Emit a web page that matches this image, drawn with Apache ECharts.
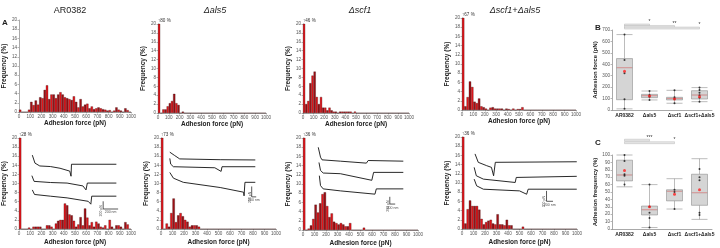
<!DOCTYPE html>
<html>
<head>
<meta charset="utf-8">
<script src="https://cdn.jsdelivr.net/npm/echarts@6/dist/echarts.min.js"></script>
<style>
  html, body { margin: 0; padding: 0; background: #fff; }
  #main { width: 720px; height: 248px; }
</style>
</head>
<body>
<div id="main"></div>
<script>
// histogram bins (pN, centre of 20 pN bins)
var binCenters = [10,30,50,70,90,110,130,150,170,190,210,230,250,270,290,310,330,350,370,390,
                  410,430,450,470,490,510,530,550,570,590,610,630,650,670,690,710,730,750,770,790,
                  810,830,850,870,890,910,930,950,970,990];

// frequency (%) per bin, top row
var topAR0382 = [0.5,0,0,0,0.5,2.2,1.5,2.5,1.6,3.2, 3.0,4.8,5.8,2.8,3.8,3.8,3.0,3.8,4.3,3.8,
                 3.2,3.0,2.8,2.6,3.4,2.2,1.0,2.8,1.2,1.6, 1.8,0.8,1.2,0.6,0.8,1.0,0.8,0.6,0.5,0.3,
                 0.4,0,0.3,1.0,0.5,0.3,0,0.8,0.4,0];
var topAls5   = [80,0,0.8,0.8,1.5,2.2,2.7,4.3,2.2,1.8, 0,0.3,0,0,0,0,0,0,0,0,
                 0,0,0,0,0,0,0,0,0,0, 0,0,0,0,0,0,0,0,0,0, 0,0,0,0,0,0,0,0,0,0];
var topScf1   = [46,2.0,2.7,6.7,8.4,9.3,3.6,2.0,3.6,1.2, 1.2,0.6,1.2,0.6,0.3,0.3,0,0.3,0.3,0.3,
                 0.3,0.3,0.3,0,0.3,0,0,0,0,0, 0,0,0,0,0,0,0,0,0,0, 0,0,0,0,0,0,0,0,0,0];
var topBoth   = [67,0.8,2.8,6.2,5.0,1.8,1.5,2.5,0.8,0.6, 0.3,0,0.5,0.6,0.3,0.3,0.3,0.3,0,0.3,
                 0.2,0,0.3,0,0.2,0.2,0.6,0,0,0, 0,0,0,0,0,0,0,0,0,0, 0,0,0,0,0,0,0,0,0,0];
// bottom row
var botAR0382 = [28,0,0,0,0.3,0,0.5,0.5,0.5,0.5, 0,0,0.8,0.8,0.5,0,1.2,1.8,2.0,2.0,
                 5.6,5.2,3.2,3.0,1.8,0.5,1.0,2.6,0.8,4.5, 2.5,0.8,1.5,0.5,1.6,1.2,0.5,0.3,0.8,0,
                 2.0,0.5,0,0.8,0.8,0.5,0,1.5,1.0,0];
var botAls5   = [73,0,1.2,0.5,3.5,6.7,1.5,3.0,3.5,2.8, 2.0,1.6,0.5,0.8,0.8,0.8,0.5,0,0,0,
                 0,0,0,0,0,0,0,0,0,0, 0,0,0,0,0,0,0,0,0,0, 0,0,0,0,0,0,0,0,0,0];
var botScf1   = [36,0,0.3,1.0,2.4,5.5,3.8,5.8,7.8,8.2, 5.2,2.8,3.6,1.8,1.5,1.2,1.5,1.2,0.8,0.8,
                 1.5,0,0,0,0,0,0.5,0,0,0, 0,0,0,0,0,0,0,0,0,0, 0,0,0,0,0,0,0,0,0,0];
var botBoth   = [36,1.2,4.3,6.2,5.0,5.0,5.0,4.2,2.2,1.0, 1.5,1.8,2.0,1.2,1.0,3.2,1.0,1.0,0.8,2.0,
                 0.8,0.8,0,0,0,0,0.5,0,0,0, 0,0,0,0,0,0,0,0,0,0, 0,0,0,0,0,0,0,0,0,0];

// force-distance traces in the insets (relative units 0-100 of the inset box)
var trace1a = [[1.5,98],[4.5,84],[10,79],[22,78],[33,75],[44,70],[45.5,61],[46,82],[97,82]];
var trace1b = [[1,62],[3.5,52],[22,50],[41,49],[59,44],[62.5,37],[64,49],[97,49]];
var trace1c = [[1.5,37],[4,29],[22,26],[41,23],[65,17],[68,12],[69,26],[97,26]];
var scale1  = [[82,17],[82,3.5],[99,3.5]];
var trace2a = [[2,92],[7,86],[13,79],[58,77.5],[97,77]];
var trace2b = [[2,80],[3,69],[6,64],[52,62],[59,55],[60,64],[97,64]];
var trace2c = [[2,53],[6,42],[17,34],[58,24],[84,15],[84.5,8],[85.5,34],[97,34]];
var scale2  = [[93,26],[93,6],[98,6]];
var trace3a = [[2.5,95],[5,80],[6.7,76],[27,74],[56,71],[57,69],[58,75],[97,74]];
var trace3b = [[3.3,72],[5,60],[8,56],[27,55],[62,45],[64,57],[97,57]];
var trace3c = [[3.7,52],[5,37],[8,32],[27,29],[65.5,24],[67,32],[97,32]];
var scale3  = [[82,20],[82,9],[88,9]];
var trace4a = [[2.8,93],[5.8,78],[13.6,72],[18,69],[20,54],[21.6,78],[97,79]];
var trace4b = [[2,69],[4,54],[10.5,48],[40,42],[40.5,39],[41,51],[97,53]];
var trace4c = [[2,48],[4.3,36],[10.5,30],[44,27],[50.6,21],[52,30],[97,30]];
var scale4  = [[69,27],[69,8.4],[75,8.4]];

// box plots
var strains = ['AR0382', 'Δals5', 'Δscf1', 'Δscf1+Δals5'];
var forceBox = [[10,90,370,450,660],[88,108,125,137,166],[59,88,100,111,172],[73,96,131,169,196]];
var forceMeans = [340, 122, 96, 117];
var forcePoints = [[660,438,322,94,10],[166,131,117,88],[172,111,97,59],[196,175,152,128,107,73]];
var freqBox = [[57,65,73,93,100],[2,19,26,31,60],[27,38,51,53,68],[13,32,49,74,95]];
var freqMeans = [79, 30, 47, 53];
var freqPoints = [[100,92,74,72,60],[60,30,22,15,2],[53,50,27],[81,70,66,22,19]];
// significance brackets: [from, to, level]
var sigForce = [[0,1,744],[0,2,731],[0,3,717]];
var sigForceStars = ['*', '**', '*'];
var sigFreq = [[0,1,120],[0,2,116.6]];
var sigFreqStars = ['***', '*'];

var chart = echarts.init(document.getElementById('main'));

var histData = [topAR0382, topAls5, topScf1, topBoth, botAR0382, botAls5, botScf1, botBoth];
var histGrids = [
  {left: 17, top: 20, width: 114, height: 92},
  {left: 158, top: 24, width: 108, height: 89},
  {left: 303, top: 24, width: 106, height: 89},
  {left: 462, top: 18, width: 114, height: 92},
  {left: 17, top: 138, width: 114, height: 91},
  {left: 161, top: 138, width: 115, height: 91},
  {left: 303, top: 138, width: 115, height: 92},
  {left: 462, top: 137, width: 115, height: 92}
];
var insetGrids = [
  {left: 31, top: 154, width: 88, height: 57},
  {left: 168, top: 148, width: 90, height: 52},
  {left: 316, top: 144, width: 90, height: 66},
  {left: 472, top: 150, width: 108, height: 56}
];
var insets = [
  [trace1a, trace1b, trace1c, scale1],
  [trace2a, trace2b, trace2c, scale2],
  [trace3a, trace3b, trace3c, scale3],
  [trace4a, trace4b, trace4c, scale4]
];

var axisColor = '#6f6f6f';
var nameStyle = {fontSize: 6.5, fontWeight: 'bold', color: '#222'};
var labStyle = {fontSize: 4.6, color: '#555', margin: 2, formatter: function (v) { return String(v); }};

var grids = [], xAxes = [], yAxes = [], series = [];

histGrids.forEach(function (g, i) {
  grids.push(g);
  xAxes.push({
    gridIndex: i, type: 'value', min: 0, max: 1000, interval: 100,
    name: 'Adhesion force (pN)', nameLocation: 'middle', nameGap: i < 4 ? 8 : 10,
    nameTextStyle: nameStyle,
    axisLine: {lineStyle: {color: axisColor, width: 0.6}},
    axisTick: {length: 1.5, lineStyle: {color: axisColor, width: 0.5}},
    axisLabel: Object.assign({showMinLabel: true, showMaxLabel: true}, labStyle),
    splitLine: {show: false}
  });
  yAxes.push({
    gridIndex: i, type: 'value', min: 0, max: 20, interval: 2,
    name: 'Frequency (%)', nameLocation: 'middle', nameGap: 9,
    nameTextStyle: nameStyle,
    axisLine: {show: true, lineStyle: {color: axisColor, width: 0.6}},
    axisTick: {show: true, length: 1.5, lineStyle: {color: axisColor, width: 0.5}},
    axisLabel: labStyle,
    splitLine: {show: false}
  });
  series.push({
    type: 'bar', xAxisIndex: i, yAxisIndex: i, barWidth: '100%',
    silent: true,
    data: binCenters.map(function (c, k) {
      var v = histData[i][k];
      var item = {value: [c, v]};
      if (v > 20) item.label = {show: true, formatter: '↑' + v + ' %'};
      return item;
    }),
    itemStyle: {
      color: function (p) { return p.dataIndex % 2 ? '#a01016' : '#e8161c'; },
      borderColor: '#2a0000', borderWidth: 0.3
    },
    label: {show: false, position: [0, -3], align: 'left', verticalAlign: 'middle', fontSize: 4.6, color: '#333'}
  });
});

insetGrids.forEach(function (g, j) {
  var gi = 8 + j;
  grids.push(g);
  xAxes.push({gridIndex: gi, type: 'value', min: 0, max: 100, show: false});
  yAxes.push({gridIndex: gi, type: 'value', min: 0, max: 100, show: false});
  var set = insets[j];
  for (var t = 0; t < 4; t++) {
    series.push({
      type: 'line', xAxisIndex: gi, yAxisIndex: gi, data: set[t], showSymbol: false, silent: true,
      lineStyle: {color: '#111', width: t < 3 ? 0.9 : 0.7}
    });
  }
  var s = set[3];
  series.push({
    type: 'scatter', xAxisIndex: gi, yAxisIndex: gi, symbolSize: 0, silent: true,
    data: [
      {value: [s[0][0], (s[0][1] + s[1][1]) / 2],
       label: {show: true, formatter: '200 pN', position: 'left', rotate: 90, distance: 2, fontSize: 3.5, color: '#222'}},
      {value: [(s[1][0] + s[2][0]) / 2, s[1][1]],
       label: {show: true, formatter: '200 nm', position: 'bottom', distance: 1.5, fontSize: 3.5, color: '#222'}}
    ]
  });
});

function makeSig(stars) {
  return function (params, api) {
    var a = api.coord([api.value(0), api.value(2)]);
    var b = api.coord([api.value(1), api.value(2)]);
    var m = api.coord([api.value(1) - 0.5, api.value(2)]);
    return {type: 'group', children: [
      {type: 'rect', shape: {x: a[0], y: a[1] - 1, width: b[0] - a[0], height: 2},
       style: {fill: '#e6e6e6', stroke: '#ababab', lineWidth: 0.4}},
      {type: 'text', style: {x: m[0], y: a[1] - 0.5, text: stars[params.dataIndex], align: 'center',
       verticalAlign: 'bottom', fontSize: 5, fill: '#333'}}
    ]};
  };
}

var boxDefs = [
  {grid: {left: 612, top: 30, width: 100, height: 80}, max: 700, interval: 100, name: 'Adhesion force (pN)',
   box: forceBox, means: forceMeans, points: forcePoints, sig: sigForce, stars: sigForceStars},
  {grid: {left: 612, top: 155, width: 100, height: 74}, max: 100, interval: 10, name: 'Adhesion frequency (%)',
   box: freqBox, means: freqMeans, points: freqPoints, sig: sigFreq, stars: sigFreqStars}
];

boxDefs.forEach(function (d, j) {
  var gi = 12 + j;
  grids.push(d.grid);
  xAxes.push({
    gridIndex: gi, type: 'category', data: strains,
    axisLine: {lineStyle: {color: axisColor, width: 0.6}},
    axisTick: {alignWithLabel: true, length: 1.5, lineStyle: {color: axisColor, width: 0.5}},
    axisLabel: {interval: 0, fontSize: 5, fontWeight: 'bold', color: '#222', margin: 3}
  });
  yAxes.push({
    gridIndex: gi, type: 'value', min: 0, max: d.max, interval: d.interval,
    name: d.name, nameLocation: 'middle', nameGap: 10, nameTextStyle: {fontSize: 6, fontWeight: 'bold', color: '#222'},
    axisLine: {show: true, lineStyle: {color: axisColor, width: 0.6}},
    axisTick: {show: true, length: 1.5, lineStyle: {color: axisColor, width: 0.5}},
    axisLabel: labStyle, splitLine: {show: false}
  });
  series.push({
    type: 'boxplot', xAxisIndex: gi, yAxisIndex: gi, data: d.box, boxWidth: [16, 16], silent: true,
    itemStyle: {color: '#d5d5d5', borderColor: '#8e8e8e', borderWidth: 0.6}
  });
  series.push({
    type: 'scatter', xAxisIndex: gi, yAxisIndex: gi, symbol: 'rect', symbolSize: [15, 0.8], silent: true,
    data: d.box.map(function (b, k) { return [k, b[2]]; }),
    itemStyle: {color: '#f08c8c'}
  });
  var pts = [];
  d.points.forEach(function (arr, k) { arr.forEach(function (v) { pts.push([k, v]); }); });
  series.push({
    type: 'scatter', xAxisIndex: gi, yAxisIndex: gi, symbolSize: 2, silent: true, data: pts,
    itemStyle: {color: '#111'}
  });
  series.push({
    type: 'scatter', xAxisIndex: gi, yAxisIndex: gi, symbolSize: 3, silent: true,
    data: d.means.map(function (v, k) { return [k, v]; }),
    itemStyle: {color: '#ff1f1f'}
  });
  series.push({
    type: 'custom', xAxisIndex: gi, yAxisIndex: gi, silent: true, clip: false,
    encode: {x: [0, 1], y: 2},
    data: d.sig, renderItem: makeSig(d.stars)
  });
});

function ttl(text, left, top, extra) {
  return {text: text, left: left, top: top, padding: 0, textAlign: 'center',
          textStyle: Object.assign({fontSize: 9, fontWeight: 'normal', color: '#222'}, extra || {})};
}

var option = {
  animation: false,
  backgroundColor: '#fff',
  textStyle: {fontFamily: 'Liberation Sans, Arial, sans-serif'},
  title: [
    ttl('AR0382', 70, 6),
    ttl('Δals5', 215, 6, {fontStyle: 'italic'}),
    ttl('Δscf1', 360, 6, {fontStyle: 'italic'}),
    ttl('Δscf1+Δals5', 515, 6, {fontStyle: 'italic'}),
    ttl('A', 5, 19, {fontSize: 8, fontWeight: 'bold'}),
    ttl('B', 598, 24, {fontSize: 8, fontWeight: 'bold'}),
    ttl('C', 598, 139, {fontSize: 8, fontWeight: 'bold'})
  ],
  grid: grids,
  xAxis: xAxes,
  yAxis: yAxes,
  series: series
};
chart.setOption(option);
</script>
</body>
</html>
